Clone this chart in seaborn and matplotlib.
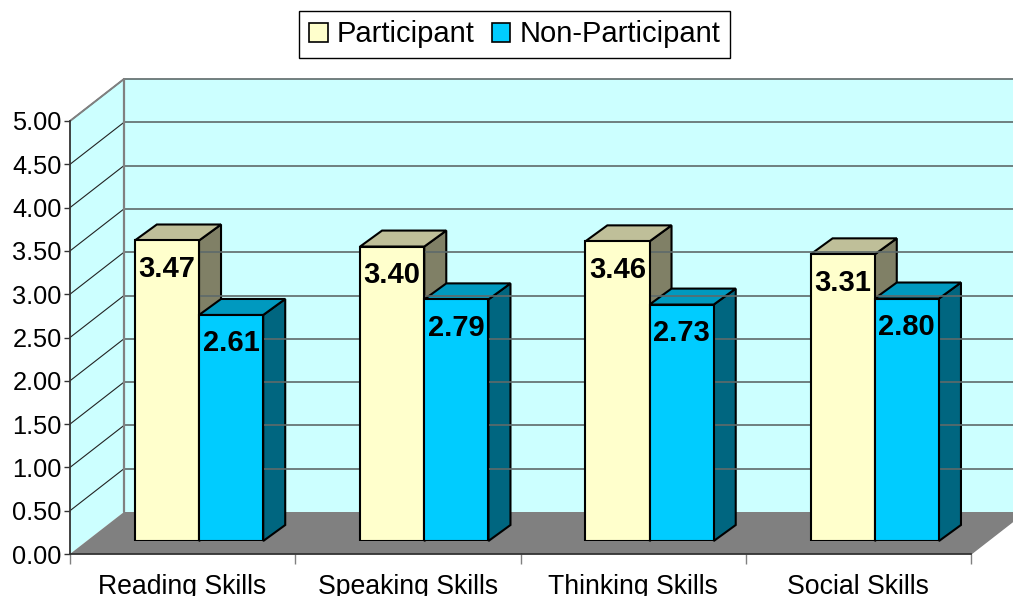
#################################################################
# Import Libraries
#################################################################
import numpy as np
import pandas as pd
import matplotlib
matplotlib.use("Agg")
import matplotlib.pyplot as plt
from matplotlib.patches import Polygon
import seaborn as sns

#################################################################
# Data
#################################################################
skills = ["Reading Skills", "Speaking Skills", "Thinking Skills", "Social Skills"]
participant = [3.47, 3.40, 3.46, 3.31]
non_participant = [2.61, 2.79, 2.73, 2.80]
y_ticks = [0.0, 0.5, 1.0, 1.5, 2.0, 2.5, 3.0, 3.5, 4.0, 4.5, 5.0]

df = pd.DataFrame({
    "skill": skills * 2,
    "group": ["Participant"] * 4 + ["Non-Participant"] * 4,
    "score": participant + non_participant,
})

#################################################################
# Layout (pixels of the 1013x596 picture)
#################################################################
W, H = 1013, 596
LEFT, RIGHT, BASE, TOP = 70, 971, 554, 121
WALL_DX, WALL_DY = 54, 42       # depth of the chart box
BAR_DX, BAR_DY = 22, 16         # depth of one bar
SHIFT_X, SHIFT_Y = 16.4, 13     # bars stand a bit inside the floor

colors = {"Participant": "#FFFFCC", "Non-Participant": "#00CCFF"}
side_colors = {"Participant": "#808066", "Non-Participant": "#006680"}
top_colors = {"Participant": "#BFBF99", "Non-Participant": "#0099BF"}

sns.set_style("white")
plt.rcParams["font.family"] = ["Liberation Sans", "DejaVu Sans"]

fig = plt.figure(figsize=(W / 100, H / 100), dpi=100)

# box behind everything, drawn in pixel coordinates
bg = fig.add_axes([0, 0, 1, 1], zorder=0)
bg.set_xlim(0, W)
bg.set_ylim(H, 0)
bg.set_axis_off()

# front plane, only holds the axis lines and labels
ax = fig.add_axes([LEFT / W, 1 - BASE / H, (RIGHT - LEFT) / W, (BASE - TOP) / H], zorder=1)
ax.patch.set_alpha(0)

# bars, same scales but moved into the box
ax_bars = fig.add_axes([(LEFT + SHIFT_X) / W, 1 - (BASE - SHIFT_Y) / H,
                        (RIGHT - LEFT) / W, (BASE - TOP) / H], zorder=2)
ax_bars.patch.set_alpha(0)

#################################################################
# Axis lines and ticks
#################################################################
ax.set_xlim(-0.5, 3.5)
ax.set_ylim(0, 5)
ax.set_yticks(y_ticks)
ax.set_yticklabels(["{:.2f}".format(v) for v in y_ticks], fontsize=18.3, color="black")
ax.set_xticks(np.arange(5) - 0.5)
ax.set_xticklabels([])
ax.set_xticks(np.arange(4), labels=skills, minor=True, fontsize=19.2, color="black")
ax.tick_params(axis="y", length=4, width=1, color="#333333", pad=2, left=True)
ax.tick_params(axis="x", which="major", length=7, width=1, color="#808080", bottom=True)
ax.tick_params(axis="x", which="minor", length=0, pad=14.5)
for name in ["top", "right"]:
    ax.spines[name].set_visible(False)
for name in ["left", "bottom"]:
    ax.spines[name].set_color("#333333")
    ax.spines[name].set_linewidth(1.3)

#################################################################
# Bars
#################################################################
sns.barplot(data=df, x="skill", y="score", hue="group", palette=colors, order=skills,
            hue_order=["Participant", "Non-Participant"], width=0.57, gap=0, saturation=1,
            edgecolor="black", linewidth=1.5, ax=ax_bars)
ax_bars.set_xlim(-0.5, 3.5)
ax_bars.set_ylim(0, 5)
handles, labels = ax_bars.get_legend_handles_labels()
ax_bars.get_legend().remove()
ax_bars.set_axis_off()

for container in ax_bars.containers:
    ax_bars.bar_label(container, fmt="%.2f", padding=-30.5, fontsize=21,
                      fontweight="bold", color="black")

#################################################################
# Box walls, floor and grid
#################################################################
fig.canvas.draw()
back_l, back_r = LEFT + WALL_DX, RIGHT + WALL_DX


def to_px(axes, x, y):
    px, py = axes.transData.transform((x, y))
    return px, H - py


bg.add_patch(Polygon([(LEFT, TOP), (back_l, TOP - WALL_DY), (back_l, BASE - WALL_DY), (LEFT, BASE)],
                     facecolor="#CCFFFF", edgecolor="none"))
bg.add_patch(Polygon([(back_l, TOP - WALL_DY), (back_r, TOP - WALL_DY), (back_r, BASE - WALL_DY),
                      (back_l, BASE - WALL_DY)], facecolor="#CCFFFF", edgecolor="none"))
bg.add_patch(Polygon([(LEFT, BASE), (back_l, BASE - WALL_DY), (back_r, BASE - WALL_DY), (RIGHT, BASE)],
                     facecolor="#808080", edgecolor="none"))

for v in y_ticks[1:]:
    _, y = to_px(ax, -0.5, v)
    bg.plot([LEFT, back_l], [y, y - WALL_DY], color="#222222", lw=0.8)
    bg.plot([back_l, back_r], [y - WALL_DY, y - WALL_DY], color="#5E6A6A", lw=1.2)
bg.plot([back_l, back_l], [TOP - WALL_DY, BASE - WALL_DY], color="#808080", lw=1.6)
bg.plot([LEFT, back_l], [TOP, TOP - WALL_DY], color="#808080", lw=1.4)
bg.plot([RIGHT, back_r], [BASE, BASE - WALL_DY], color="#808080", lw=1)
bg.set_xlim(0, W)
bg.set_ylim(H, 0)

#################################################################
# Side and top faces of the bars
#################################################################
groups = ["Participant", "Non-Participant"]
for i in range(4):
    for g, container in zip(groups, ax_bars.containers):
        bar = container.patches[i]
        x0, y0 = to_px(ax_bars, bar.get_x(), 0)
        x1, y1 = to_px(ax_bars, bar.get_x() + bar.get_width(), bar.get_height())
        bg.add_patch(Polygon([(x1, y1), (x1 + BAR_DX, y1 - BAR_DY), (x1 + BAR_DX, y0 - BAR_DY), (x1, y0)],
                             facecolor=side_colors[g], edgecolor="black", lw=1.5))
        bg.add_patch(Polygon([(x0, y1), (x0 + BAR_DX, y1 - BAR_DY), (x1 + BAR_DX, y1 - BAR_DY), (x1, y1)],
                             facecolor=top_colors[g], edgecolor="black", lw=1.5))

#################################################################
# Legend
#################################################################
leg = fig.legend(handles, labels, ncol=2, loc="center", bbox_to_anchor=(514.5 / W, 1 - 34.5 / H),
                 fontsize=21, labelcolor="black", frameon=True, fancybox=False, framealpha=1,
                 edgecolor="black", handlelength=0.64, handleheight=0.64, handletextpad=0.3,
                 columnspacing=0.6, borderpad=0.34, borderaxespad=0)
leg.get_frame().set_linewidth(1)
for h in leg.legend_handles:
    h.set_edgecolor("black")
    h.set_linewidth(1.2)

fig.savefig("out.png", dpi=100)
